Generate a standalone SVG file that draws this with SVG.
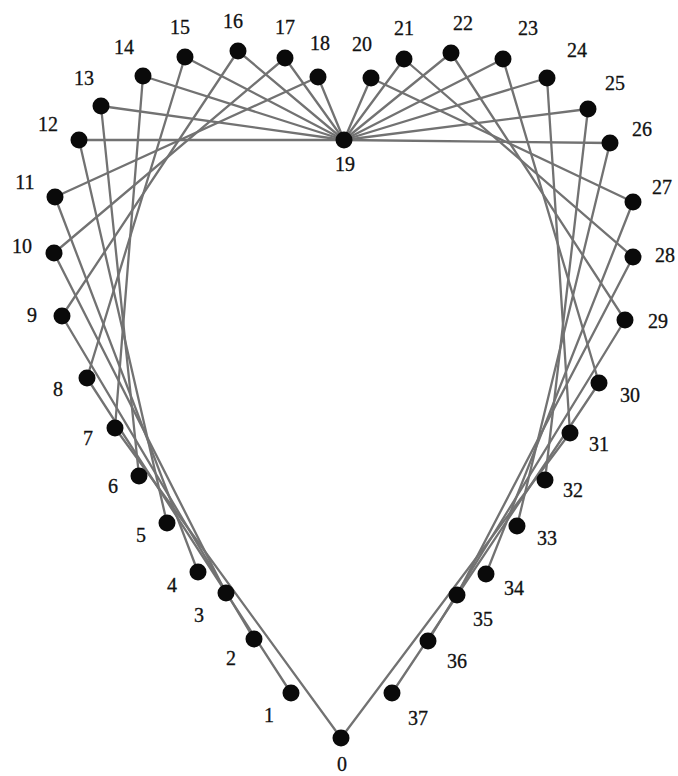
<svg xmlns="http://www.w3.org/2000/svg" width="678" height="776" viewBox="0 0 678 776">
<style>
.e{stroke:#727272;stroke-width:2.3;fill:none;stroke-linecap:round}
.n{fill:#0a0a0a}
.t{font-family:"Liberation Serif","Times New Roman",serif;font-size:20px;fill:#111111;stroke:#111111;stroke-width:0.3;text-anchor:middle}
</style>
<rect width="678" height="776" fill="#ffffff"/>
<g id="connectors" class="e">
<line x1="341" y1="738" x2="115" y2="428"/>
<line x1="291" y1="693" x2="87" y2="378"/>
<line x1="254" y1="639" x2="62" y2="316"/>
<line x1="226" y1="593" x2="54" y2="253"/>
<line x1="198" y1="572" x2="55" y2="197"/>
<line x1="167" y1="523" x2="79" y2="140"/>
<line x1="139" y1="476" x2="101" y2="106"/>
<line x1="115" y1="428" x2="143" y2="76"/>
<line x1="87" y1="378" x2="185" y2="57"/>
<line x1="62" y1="316" x2="238" y2="51"/>
<line x1="54" y1="253" x2="285" y2="58"/>
<line x1="55" y1="197" x2="318" y2="77"/>
<line x1="79" y1="140" x2="344" y2="140"/>
<line x1="101" y1="106" x2="344" y2="140"/>
<line x1="143" y1="76" x2="344" y2="140"/>
<line x1="185" y1="57" x2="344" y2="140"/>
<line x1="238" y1="51" x2="344" y2="140"/>
<line x1="285" y1="58" x2="344" y2="140"/>
<line x1="318" y1="77" x2="344" y2="140"/>
<line x1="371" y1="78" x2="344" y2="140"/>
<line x1="404" y1="59" x2="344" y2="140"/>
<line x1="451" y1="53" x2="344" y2="140"/>
<line x1="503" y1="59" x2="344" y2="140"/>
<line x1="547" y1="78" x2="344" y2="140"/>
<line x1="588" y1="109" x2="344" y2="140"/>
<line x1="610" y1="143" x2="344" y2="140"/>
<line x1="371" y1="78" x2="633" y2="202"/>
<line x1="404" y1="59" x2="633" y2="257"/>
<line x1="451" y1="53" x2="625" y2="320"/>
<line x1="503" y1="59" x2="599" y2="383"/>
<line x1="547" y1="78" x2="570" y2="433"/>
<line x1="588" y1="109" x2="545" y2="480"/>
<line x1="610" y1="143" x2="517" y2="526"/>
<line x1="633" y1="202" x2="486" y2="574"/>
<line x1="633" y1="257" x2="457" y2="595"/>
<line x1="625" y1="320" x2="428" y2="641"/>
<line x1="599" y1="383" x2="392" y2="693"/>
<line x1="570" y1="433" x2="341" y2="738"/>
</g>
<g id="node-0"><circle class="n" cx="341" cy="738" r="8.5"/><text class="t" x="342" y="771">0</text></g>
<g id="node-1"><circle class="n" cx="291" cy="693" r="8.5"/><text class="t" x="269" y="722">1</text></g>
<g id="node-2"><circle class="n" cx="254" cy="639" r="8.5"/><text class="t" x="231" y="665">2</text></g>
<g id="node-3"><circle class="n" cx="226" cy="593" r="8.5"/><text class="t" x="199" y="622">3</text></g>
<g id="node-4"><circle class="n" cx="198" cy="572" r="8.5"/><text class="t" x="172" y="592">4</text></g>
<g id="node-5"><circle class="n" cx="167" cy="523" r="8.5"/><text class="t" x="141" y="542">5</text></g>
<g id="node-6"><circle class="n" cx="139" cy="476" r="8.5"/><text class="t" x="113" y="493">6</text></g>
<g id="node-7"><circle class="n" cx="115" cy="428" r="8.5"/><text class="t" x="88" y="445">7</text></g>
<g id="node-8"><circle class="n" cx="87" cy="378" r="8.5"/><text class="t" x="58" y="396">8</text></g>
<g id="node-9"><circle class="n" cx="62" cy="316" r="8.5"/><text class="t" x="32" y="322">9</text></g>
<g id="node-10"><circle class="n" cx="54" cy="253" r="8.5"/><text class="t" x="22" y="253">10</text></g>
<g id="node-11"><circle class="n" cx="55" cy="197" r="8.5"/><text class="t" x="25" y="189">11</text></g>
<g id="node-12"><circle class="n" cx="79" cy="140" r="8.5"/><text class="t" x="48" y="131">12</text></g>
<g id="node-13"><circle class="n" cx="101" cy="106" r="8.5"/><text class="t" x="84" y="85">13</text></g>
<g id="node-14"><circle class="n" cx="143" cy="76" r="8.5"/><text class="t" x="124" y="54">14</text></g>
<g id="node-15"><circle class="n" cx="185" cy="57" r="8.5"/><text class="t" x="180" y="34">15</text></g>
<g id="node-16"><circle class="n" cx="238" cy="51" r="8.5"/><text class="t" x="233" y="28">16</text></g>
<g id="node-17"><circle class="n" cx="285" cy="58" r="8.5"/><text class="t" x="285" y="34">17</text></g>
<g id="node-18"><circle class="n" cx="318" cy="77" r="8.5"/><text class="t" x="320" y="50">18</text></g>
<g id="node-19"><circle class="n" cx="344" cy="140" r="8.5"/><text class="t" x="345" y="171">19</text></g>
<g id="node-20"><circle class="n" cx="371" cy="78" r="8.5"/><text class="t" x="362" y="51">20</text></g>
<g id="node-21"><circle class="n" cx="404" cy="59" r="8.5"/><text class="t" x="404" y="35">21</text></g>
<g id="node-22"><circle class="n" cx="451" cy="53" r="8.5"/><text class="t" x="463" y="30">22</text></g>
<g id="node-23"><circle class="n" cx="503" cy="59" r="8.5"/><text class="t" x="528" y="35">23</text></g>
<g id="node-24"><circle class="n" cx="547" cy="78" r="8.5"/><text class="t" x="577" y="57">24</text></g>
<g id="node-25"><circle class="n" cx="588" cy="109" r="8.5"/><text class="t" x="615" y="90">25</text></g>
<g id="node-26"><circle class="n" cx="610" cy="143" r="8.5"/><text class="t" x="642" y="136">26</text></g>
<g id="node-27"><circle class="n" cx="633" cy="202" r="8.5"/><text class="t" x="662" y="194">27</text></g>
<g id="node-28"><circle class="n" cx="633" cy="257" r="8.5"/><text class="t" x="665" y="262">28</text></g>
<g id="node-29"><circle class="n" cx="625" cy="320" r="8.5"/><text class="t" x="658" y="328">29</text></g>
<g id="node-30"><circle class="n" cx="599" cy="383" r="8.5"/><text class="t" x="630" y="402">30</text></g>
<g id="node-31"><circle class="n" cx="570" cy="433" r="8.5"/><text class="t" x="599" y="451">31</text></g>
<g id="node-32"><circle class="n" cx="545" cy="480" r="8.5"/><text class="t" x="573" y="497">32</text></g>
<g id="node-33"><circle class="n" cx="517" cy="526" r="8.5"/><text class="t" x="547" y="545">33</text></g>
<g id="node-34"><circle class="n" cx="486" cy="574" r="8.5"/><text class="t" x="514" y="595">34</text></g>
<g id="node-35"><circle class="n" cx="457" cy="595" r="8.5"/><text class="t" x="483" y="626">35</text></g>
<g id="node-36"><circle class="n" cx="428" cy="641" r="8.5"/><text class="t" x="457" y="668">36</text></g>
<g id="node-37"><circle class="n" cx="392" cy="693" r="8.5"/><text class="t" x="418" y="725">37</text></g>
</svg>
